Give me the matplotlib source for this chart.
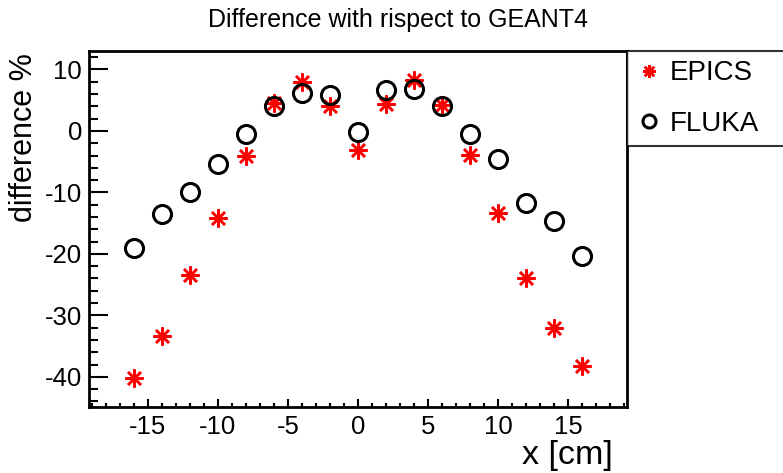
import matplotlib
matplotlib.use("Agg")
import matplotlib.pyplot as plt
from matplotlib.ticker import MultipleLocator

plt.rcParams['font.family'] = ['Liberation Sans', 'DejaVu Sans']
plt.rcParams['axes.unicode_minus'] = False

x_cm = [-16, -14, -12, -10, -8, -6, -4, -2, 0, 2, 4, 6, 8, 10, 12, 14, 16]
epics = [-40.2, -33.3, -23.4, -14.1, -4.1, 4.5, 8.0, 4.1, -3.1,
         4.4, 8.3, 4.2, -3.9, -13.4, -24.0, -32.0, -38.2]
fluka = [-19.1, -13.5, -9.9, -5.4, -0.5, 4.0, 6.1, 5.9, -0.1,
         6.7, 6.8, 4.0, -0.5, -4.6, -11.8, -14.6, -20.3]

W, H = 783, 473
fig = plt.figure(figsize=(W/100, H/100), dpi=100)
ax = fig.add_axes([89/W, 1 - 407/H, (627 - 89)/W, (407 - 51)/H])

star = (8, 2, 0)
ax.plot(x_cm, epics, linestyle='none', marker=star, markersize=13,
        markeredgewidth=1.8, color='#ff0000', label='EPICS')
ax.plot(x_cm, fluka, linestyle='none', marker='o', markersize=13,
        markeredgewidth=2.2, markerfacecolor='none', markeredgecolor='black',
        label='FLUKA')

ax.set_xlim(-19.2, 19.2)
ax.set_ylim(-44.9, 13.0)
ax.xaxis.set_major_locator(MultipleLocator(5))
ax.xaxis.set_minor_locator(MultipleLocator(1))
ax.yaxis.set_major_locator(MultipleLocator(10))
ax.yaxis.set_minor_locator(MultipleLocator(2))
ax.tick_params(which='both', direction='in', top=False, right=False,
               labelsize=18.5, width=1.5)
ax.tick_params(axis='y', which='major', length=14, pad=5)
ax.tick_params(axis='y', which='minor', length=6.5)
ax.tick_params(axis='x', which='major', length=6, pad=6)
ax.tick_params(axis='x', which='minor', length=3)
for s in ax.spines.values():
    s.set_linewidth(2)

fig.text(24/W, 1 - 53/H, 'difference %', rotation=90,
         ha='center', va='top', fontsize=22)
fig.text(613/W, 1 - 464/H, 'x [cm]', ha='right', va='baseline', fontsize=24.5)
fig.text(398/W, 1 - 20/H, 'Difference with rispect to GEANT4',
         ha='center', va='center', fontsize=18)

leg = fig.legend(loc='upper left',
                 bbox_to_anchor=(627/W, 1 - 146/H, 200/W, 95/H),
                 mode='expand', borderaxespad=0, fancybox=False,
                 fontsize=20, handlelength=0.9, handletextpad=0.3,
                 labelspacing=0.88, borderpad=0.34, markerscale=0.72)
leg.get_frame().set_edgecolor('black')
leg.get_frame().set_linewidth(1.5)

fig.savefig('out.png', dpi=100)
